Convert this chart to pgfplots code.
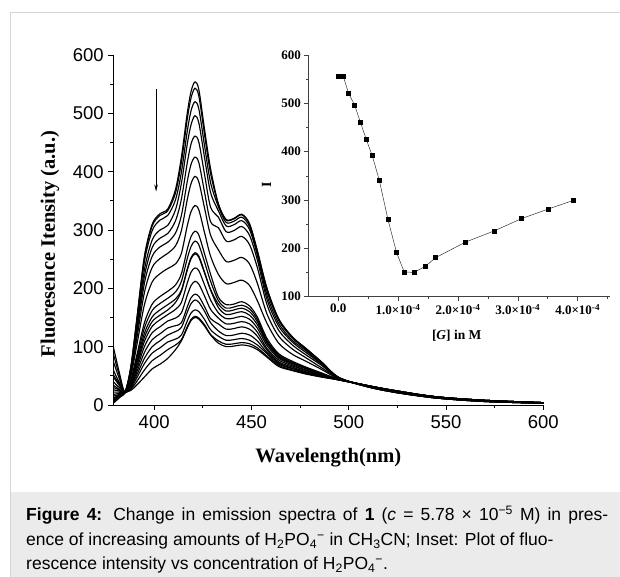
\documentclass[border=0pt]{standalone}
\usepackage{pgfplots}
\pgfplotsset{compat=1.18}
\usepackage{pgfplotstable}
\usepackage{fontspec}
\setmainfont{Liberation Sans}
\newfontfamily\timesfont{Liberation Serif}
\usetikzlibrary{arrows.meta}

\definecolor{capgray}{RGB}{235,235,235}
\definecolor{framegray}{RGB}{214,214,214}

% Emission spectra: one column per titration step
\pgfplotstableread{
w   c1  c2  c3  c4  c5  c6  c7  c8  c9  c10 c11 c12 c13 c14 c15 c16 c17 c18 c19
379 100 12  88  6   75  30  60  18  48  3   40  8   34  22  26  15  52  10  4
382 57  17  52  14  46  26  39  20  34  12  30  15  27  22  24  18  36  16  13
385 22  22  23  21  22  22  23  22  21  22  23  22  21  22  22  21  22  21  21
388 65  65  63  61  58  56  53  49  43  41  39  38  36  35  33  31  29  27  25
391 145 144 140 133 127 120 112 101 84  79  74  70  66  61  56  51  46  40  34
395 255 253 246 232 221 209 193 172 141 132 123 116 109 100 90  80  71  60  48
399 310 307 299 283 270 255 236 211 173 162 151 143 135 124 112 100 89  76  62
403 328 325 317 300 286 271 251 225 186 174 163 154 146 134 122 110 98  85  70
407 336 333 325 308 294 279 260 234 195 183 172 163 155 144 132 120 108 95  80
411 370 364 352 335 316 295 273 242 206 194 182 176 164 149 136 126 113 103 95
414 425 416 399 380 353 325 299 260 225 212 197 195 176 158 141 133 120 112 110
417 500 490 469 447 415 383 352 307 267 251 233 231 209 188 168 159 144 134 132
419 538 527 505 481 448 413 380 332 289 272 253 251 228 205 184 174 158 147 145
421 554 543 520 496 461 425 392 342 298 281 261 259 235 212 190 180 163 152 150
423 540 529 507 483 450 415 382 334 291 274 255 253 230 207 186 176 160 149 147
426 470 461 442 422 393 363 336 294 258 244 227 225 205 186 168 160 146 137 135
429 405 397 381 364 339 314 291 255 224 212 198 197 180 164 148 141 129 121 120
433 345 344 340 333 322 304 266 224 185 179 173 167 158 149 139 127 118 110 106
437 318 317 313 307 297 281 246 208 172 166 161 155 148 139 130 119 111 104 100
441 320 319 315 309 299 283 248 210 173 168 163 157 149 140 131 120 112 105 101
445 327 326 322 316 306 289 253 214 177 171 166 160 152 143 134 123 114 107 103
449 311 310 306 301 291 275 242 205 170 165 160 154 147 139 130 120 111 105 101
453 265 264 261 257 249 236 209 179 151 147 143 138 132 125 118 110 103 98  95
458 200 199 195 188 181 172 156 140 114 110 108 106 102 97  94  90  88  84  82
464 148 147 145 140 135 128 118 106 88  86  84  82  80  77  74  72  70  68  66
471 117 116 115 111 108 103 96  87  75  73  72  71  69  67  65  63  62  60  59
478 97  97  95  93  90  86  81  75  65  64  63  62  60  59  57  56  55  54  53
486 74  74  73  71  70  68  64  61  55  54  54  53  52  51  51  50  49  48  48
495 47  47  47  47  46  46  46  45  44  44  44  44  44  44  43  43  43  43  43
510 31  31  31  31  31  32  32  32  33  33  33  33  33  33  33  33  33  33  33
525 21  21  21  21  22  22  22  22  23  23  23  23  23  24  24  24  24  24  24
545 12  12  12  12  12  12  13  13  14  14  14  14  14  14  14  14  14  14  14
570 6   6   6   6   6   7   7   7   7   7   7   8   8   8   8   8   8   8   8
600 3   3   3   3   3   3   3   3   4   4   4   4   4   4   4   4   4   4   4
}\spectra

% Inset: intensity vs guest concentration (x in units of 1e-4 M)
\pgfplotstableread{
g     I
0.000 556.6
0.084 555.9
0.173 520.7
0.273 496.6
0.373 460.0
0.468 425.5
0.568 391.7
0.685 341.4
0.830 260.0
0.975 191.0
1.103 151.0
1.270 150.3
1.454 162.8
1.627 180.7
2.128 213.1
2.602 235.9
3.059 261.4
3.510 281.4
3.930 299.3
}\titration

\begin{document}
\begin{tikzpicture}[x=1pt,y=1pt]
\useasboundingbox (0,0) rectangle (620,577);

% frame and caption panel
\fill[capgray] (10,0) rectangle (620,84.7);
\draw[framegray, line width=0.8pt] (10,0) -- (10,564.3) -- (620,564.3);

% main spectra
\begin{axis}[
  at={(113.3pt,172pt)}, anchor=south west,
  width=430pt, height=350pt, scale only axis,
  xmin=379, xmax=600, ymin=0, ymax=600,
  axis lines*=left,
  axis line style={-, line width=0.9pt},
  xtick={400,450,...,600}, ytick={0,100,...,600},
  minor x tick num=1, minor y tick num=1,
  tick align=outside, major tick length=5pt, minor tick length=3pt,
  every tick/.style={black, line width=0.8pt},
  /pgf/number format/assume math mode=true,
  ticklabel style={font=\fontsize{18.5}{20}\selectfont},
  xticklabel style={yshift=-2pt},
  yticklabel style={xshift=-1pt},
  every axis x label/.style={at={(axis description cs:0.5,-0.1657)}, anchor=base},
  every axis y label/.style={at={(axis description cs:-0.1356,0.46)}, rotate=90, anchor=base},
  xlabel={\timesfont\bfseries\fontsize{20.5}{24}\selectfont Wavelength(nm)},
  ylabel={\timesfont\bfseries\fontsize{20.5}{24}\selectfont Fluoresence Itensity (a.u.)},
]
\pgfplotsinvokeforeach{1,...,19}{
  \addplot[black, line width=1.15pt, smooth, tension=0.5] table[x=w, y=c#1] {\spectra};
}
\draw[line width=0.6pt, -{Stealth[length=7pt, width=3.5pt]}] (axis cs:401,542) -- (axis cs:401,366);
\end{axis}

% inset
\begin{axis}[
  at={(308.3pt,280.3pt)}, anchor=south west,
  width=301.7pt, height=241.7pt, scale only axis,
  xmin=-0.5, xmax=4.54, ymin=100, ymax=600,
  axis lines*=left,
  axis line style={-, line width=0.6pt, black!75},
  xtick={0,1,2,3,4},
  xticklabels={0.0, 1.0×10\textsuperscript{-4}, 2.0×10\textsuperscript{-4}, 3.0×10\textsuperscript{-4}, 4.0×10\textsuperscript{-4}},
  minor xtick={0.5,1.5,2.5,3.5,4.5},
  ytick={100,200,...,600}, minor ytick={150,250,...,550},
  tick align=outside, major tick length=4pt, minor tick length=2.5pt,
  every tick/.style={black!75, line width=0.6pt},
  /pgf/number format/assume math mode=true,
  ticklabel style={font=\timesfont\bfseries\fontsize{13}{15}\selectfont},
  every axis x label/.style={at={(axis description cs:0.492,-0.179)}, anchor=base},
  every axis y label/.style={at={(axis description cs:-0.1236,0.462)}, rotate=90, anchor=base},
  xlabel={\timesfont\bfseries\fontsize{13.5}{16}\selectfont [\textit{G}] in M},
  ylabel={\timesfont\bfseries\fontsize{14}{16}\selectfont I},
]
\addplot[black!80, line width=0.5pt, mark=square*, mark size=2pt,
  mark options={black, solid}] table[x=g, y=I] {\titration};
\end{axis}

% caption
\begin{scope}[every node/.style={anchor=base west, inner sep=0pt, font=\fontsize{17.5}{20}\selectfont}]
\node at (26,56) {\makebox[582pt][s]{\textbf{Figure 4:} Change in emission spectra of \textbf{1} (\textit{c} = 5.78 × 10\textsuperscript{−5} M) in pres-}};
\node at (26,31.5) {ence of increasing amounts of H\textsubscript{2}PO\textsubscript{4}\textsuperscript{−} in CH\textsubscript{3}CN; Inset: Plot of fluo-};
\node at (26,7) {rescence intensity vs concentration of H\textsubscript{2}PO\textsubscript{4}\textsuperscript{−}.};
\end{scope}
\end{tikzpicture}
\end{document}
